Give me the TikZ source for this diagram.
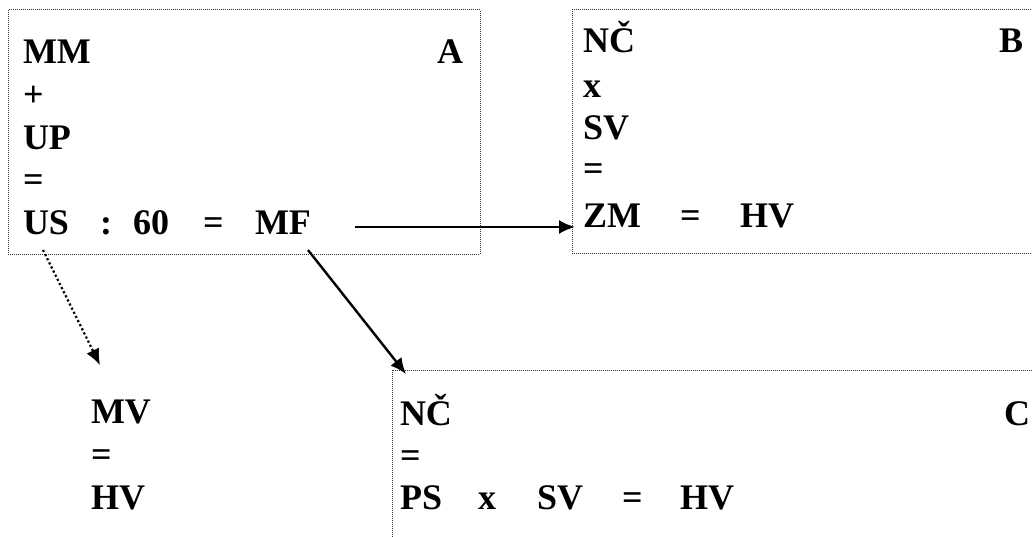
\documentclass[tikz,border=0pt]{standalone}
\usepackage{fontspec}
\setmainfont{Liberation Serif}
\usetikzlibrary{arrows.meta}
\begin{document}
\begin{tikzpicture}[x=1pt,y=-1pt,
  lbl/.style={inner sep=0pt, outer sep=0pt, anchor=base west, font=\bfseries\fontsize{36}{42}\selectfont},
  lblr/.style={lbl, anchor=base east},
  frame/.style={draw=black!80, line width=1pt, dash pattern=on 1pt off 1pt, inner sep=0pt, outer sep=0pt, anchor=north west},
  arr/.style={line width=2.4pt, -{Latex[length=16pt,width=14pt]}},
  dotarr/.style={arr, line width=2.2pt, dash pattern=on 2.2pt off 2.4pt}]
\useasboundingbox (0,0) rectangle (1032,537);
\clip (0,0) rectangle (1032,537);
% boxes
\node[frame, minimum width=472pt, minimum height=244pt] (boxA) at (8,10) {};
\node[frame, minimum width=480pt, minimum height=243pt] (boxB) at (572,10) {};
\node[frame, minimum width=660pt, minimum height=200pt] (boxC) at (392,370) {};
% box A text
\node[lbl] (mm) at (23,64) {MM};
\node[lblr] (la) at (463,64) {A};
\node[lbl] (plus) at (23,107) {+};
\node[lbl] (up) at (23,150) {UP};
\node[lbl] (eqA) at (23,192) {=};
\node[lbl] (us) at (23,235) {US};
\node[lbl] (colon) at (100,235) {:};
\node[lbl] (sixty) at (133,235) {60};
\node[lbl] (eqAb) at (203,235) {=};
\node[lbl] (mf) at (255,235) {MF};
% box B text
\node[lbl] (ncB) at (583,53) {NČ};
\node[lblr] (lb) at (1023,53) {B};
\node[lbl] (xB) at (583,98) {x};
\node[lbl] (svB) at (583,140) {SV};
\node[lbl] (eqB) at (583,181) {=};
\node[lbl] (zm) at (583,228) {ZM};
\node[lbl] (eqBb) at (680,228) {=};
\node[lbl] (hvB) at (740,228) {HV};
% box C text
\node[lbl] (ncC) at (400,425) {NČ};
\node[lblr] (lc) at (1030,425) {C};
\node[lbl] (eqC) at (400,467) {=};
\node[lbl] (ps) at (400,509) {PS};
\node[lbl] (xC) at (478,509) {x};
\node[lbl] (svC) at (537,509) {SV};
\node[lbl] (eqCb) at (622,509) {=};
\node[lbl] (hvC) at (680,509) {HV};
% free text
\node[lbl] (mv) at (91,423) {MV};
\node[lbl] (eqM) at (91,466) {=};
\node[lbl] (hvM) at (91,509) {HV};
% connectors
\coordinate (hstart) at (355,227);
\draw[arr, shorten >=-3pt] (hstart) -- (hstart -| boxB.west);
\coordinate (dstart) at (308,250);
\coordinate (dend) at ([xshift=14pt,yshift=-4pt]boxC.north west);
\draw[arr] (dstart) -- (dend);
\coordinate (vstart) at (43,250);
\coordinate (vend) at (100,365);
\draw[dotarr] (vstart) -- (vend);
\end{tikzpicture}
\end{document}
